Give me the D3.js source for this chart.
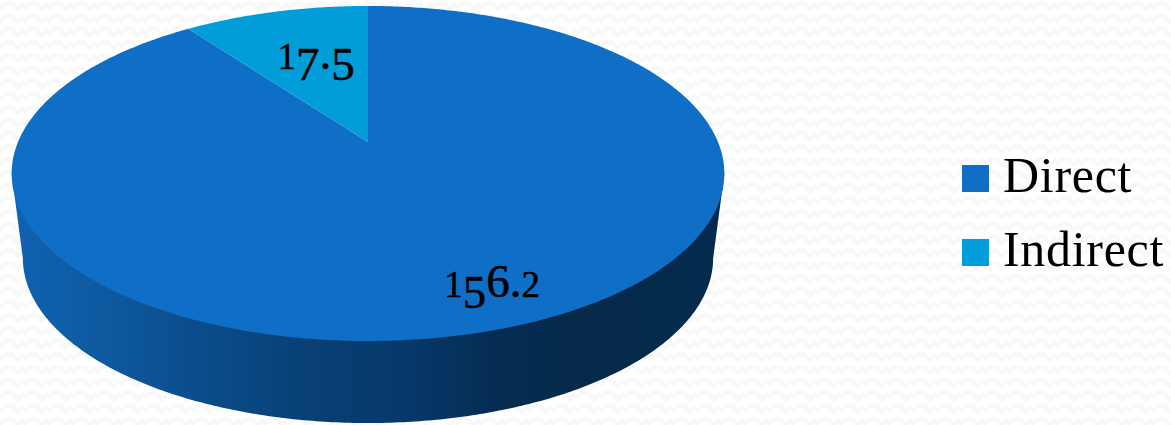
<!DOCTYPE html>
<html>
<head>
<meta charset="utf-8">
<script src="https://cdnjs.cloudflare.com/ajax/libs/d3/7.8.5/d3.min.js"></script>
<style>
  html, body { margin: 0; padding: 0; background: #fff; }
  svg { display: block; }
  text { font-family: "Liberation Serif", serif; fill: #000; }
</style>
</head>
<body>
<div id="chart"></div>
<script>
const categories = ["Direct", "Indirect"];
const values = [156.2, 17.5];

const width = 1171, height = 425;

const color = d3.scaleOrdinal().domain(categories).range(["#0f6fc6", "#009dd9"]);

let svg = d3.select("#chart").append("svg")
  .attr("width", width)
  .attr("height", height);

// faint zigzag of the slide background
let defs = svg.append("defs");
defs.append("pattern")
  .attr("id", "zigzag")
  .attr("width", 24)
  .attr("height", 13)
  .attr("patternUnits", "userSpaceOnUse")
  .append("path")
  .attr("d", "M-1 9 L6 3 L12 3 L18 9 L25 3 M-1 22 L6 16 L12 16 L18 22 L25 16 M-1 -4 L6 -10 L12 -10 L18 -4 L25 -10")
  .attr("fill", "none")
  .attr("stroke", "#f8f8f8")
  .attr("stroke-width", 4);

svg.append("rect").attr("width", width).attr("height", height).attr("fill", "#fff");
svg.append("rect").attr("width", width).attr("height", height).attr("fill", "url(#zigzag)");

// the tilted disc, a circle seen in perspective
const cx = 368, tilt = 0.188;
const topRim = { a: -134.9, b: 142, k: 350 };
const bottomRim = { a: -116.5, b: 227, k: 339 };

function project(angle, r, rim) {
  let u = Math.sin(angle) * r,
      v = Math.cos(angle) * r,
      w = tilt * v + 1;
  return [cx + rim.k * u / w, (rim.a * v + rim.b) / w];
}

let line = d3.line();

let pie = d3.pie().sort(null);
let slices = pie(values);

function arcPoints(start, end, rim) {
  let n = Math.max(2, Math.ceil((end - start) / 0.01));
  return d3.range(n + 1).map(function (i) {
    return project(start + (end - start) * i / n, 1, rim);
  });
}

// side wall, lighter on the left and almost navy on the right
let wall = defs.append("linearGradient")
  .attr("id", "wall")
  .attr("gradientUnits", "userSpaceOnUse")
  .attr("x1", 20).attr("x2", 720).attr("y1", 0).attr("y2", 0);
[[0, "#0f62b0"], [0.1, "#0e5ba3"], [0.25, "#0b4d8c"], [0.42, "#083f74"], [0.56, "#07386a"],
 [0.68, "#052c52"], [0.8, "#042949"], [1, "#042b4e"]].forEach(function (s) {
  wall.append("stop").attr("offset", s[0]).attr("stop-color", s[1]);
});

// silhouette: widest point of the top rim, down to the front of the bottom rim and back up
const widest = Math.PI / 2 + 0.19;
let wallPoints = [project(widest, 1, topRim)]
  .concat(arcPoints(widest, 2 * Math.PI - widest, bottomRim))
  .concat([project(2 * Math.PI - widest, 1, topRim)]);
svg.append("path")
  .attr("d", line(wallPoints) + "Z")
  .attr("fill", "url(#wall)");

// top face
svg.selectAll("path.slice")
  .data(slices)
  .enter().append("path")
  .attr("class", "slice")
  .attr("d", function (d) {
    let pts = [project(0, 0, topRim)].concat(arcPoints(d.startAngle, d.endAngle, topRim));
    return line(pts) + "Z";
  })
  .attr("fill", function (d, i) { return color(categories[i]); });

// data labels, old-style figures faked per digit
const fmt = d3.format(".1f");
const labelPos = [[492, 297], [316, 69]];
const smallDigit = "012", dropDigit = "3457";

let labels = svg.selectAll("text.label")
  .data(slices)
  .enter().append("text")
  .attr("class", "label")
  .attr("text-anchor", "middle")
  .attr("stroke", "#000")
  .attr("stroke-width", 0.5)
  .attr("x", function (d, i) { return labelPos[i][0]; })
  .attr("y", function (d, i) { return labelPos[i][1]; });

labels.each(function (d) {
  let t = d3.select(this), prev = 0;
  fmt(d.value).split("").forEach(function (c) {
    let shift = dropDigit.includes(c) ? 11 : 0;
    t.append("tspan")
      .attr("dy", shift - prev)
      .attr("font-size", smallDigit.includes(c) ? 37 : 47)
      .text(c);
    prev = shift;
  });
});

// legend
let legend = svg.selectAll("g.legend")
  .data(categories)
  .enter().append("g")
  .attr("class", "legend")
  .attr("transform", function (d, i) { return "translate(962," + (165 + i * 74) + ")"; });

legend.append("rect")
  .attr("width", 27)
  .attr("height", 27)
  .attr("fill", function (d) { return color(d); });

legend.append("text")
  .attr("x", 41)
  .attr("y", 27)
  .attr("font-size", 50)
  .attr("letter-spacing", 0.7)
  .text(function (d) { return d; });
</script>
</body>
</html>
